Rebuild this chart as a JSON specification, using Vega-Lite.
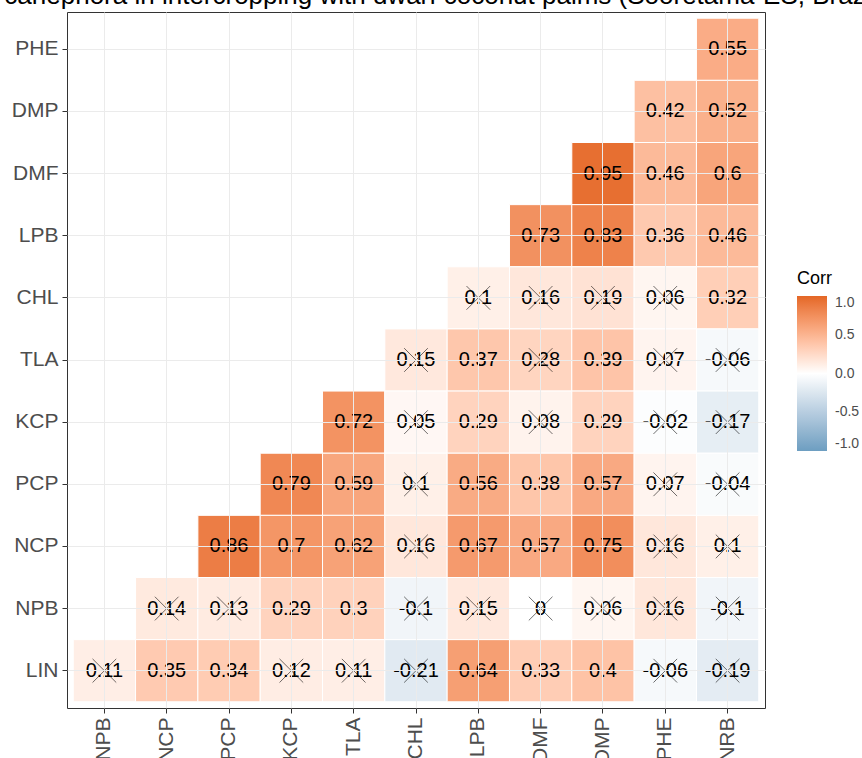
{
  "$schema": "https://vega.github.io/schema/vega-lite/v6.json",
  "autosize": {"type": "none"},
  "width": 698,
  "height": 696,
  "padding": {"left": 67, "top": 12, "right": 97, "bottom": 50},
  "background": "white",
  "title": {
    "text": "Coffea canephora in intercropping with dwarf coconut palms (Sooretama-ES, Brazil)",
    "anchor": "start",
    "frame": "group",
    "orient": "top",
    "baseline": "alphabetic",
    "offset": -18,
    "dx": -146,
    "font": "Liberation Sans",
    "fontSize": 26,
    "fontWeight": "normal",
    "color": "#000000"
  },
  "data": {
    "values": [
      {"row": "PHE", "col": "NRB", "r": 0.55, "insig": false},
      {"row": "DMP", "col": "PHE", "r": 0.42, "insig": false},
      {"row": "DMP", "col": "NRB", "r": 0.52, "insig": false},
      {"row": "DMF", "col": "DMP", "r": 0.95, "insig": false},
      {"row": "DMF", "col": "PHE", "r": 0.46, "insig": false},
      {"row": "DMF", "col": "NRB", "r": 0.6, "insig": false},
      {"row": "LPB", "col": "DMF", "r": 0.73, "insig": false},
      {"row": "LPB", "col": "DMP", "r": 0.83, "insig": false},
      {"row": "LPB", "col": "PHE", "r": 0.36, "insig": false},
      {"row": "LPB", "col": "NRB", "r": 0.46, "insig": false},
      {"row": "CHL", "col": "LPB", "r": 0.1, "insig": true},
      {"row": "CHL", "col": "DMF", "r": 0.16, "insig": true},
      {"row": "CHL", "col": "DMP", "r": 0.19, "insig": true},
      {"row": "CHL", "col": "PHE", "r": 0.06, "insig": true},
      {"row": "CHL", "col": "NRB", "r": 0.32, "insig": false},
      {"row": "TLA", "col": "CHL", "r": 0.15, "insig": true},
      {"row": "TLA", "col": "LPB", "r": 0.37, "insig": false},
      {"row": "TLA", "col": "DMF", "r": 0.28, "insig": true},
      {"row": "TLA", "col": "DMP", "r": 0.39, "insig": false},
      {"row": "TLA", "col": "PHE", "r": 0.07, "insig": true},
      {"row": "TLA", "col": "NRB", "r": -0.06, "insig": true},
      {"row": "KCP", "col": "TLA", "r": 0.72, "insig": false},
      {"row": "KCP", "col": "CHL", "r": 0.05, "insig": true},
      {"row": "KCP", "col": "LPB", "r": 0.29, "insig": false},
      {"row": "KCP", "col": "DMF", "r": 0.08, "insig": true},
      {"row": "KCP", "col": "DMP", "r": 0.29, "insig": false},
      {"row": "KCP", "col": "PHE", "r": -0.02, "insig": true},
      {"row": "KCP", "col": "NRB", "r": -0.17, "insig": true},
      {"row": "PCP", "col": "KCP", "r": 0.79, "insig": false},
      {"row": "PCP", "col": "TLA", "r": 0.59, "insig": false},
      {"row": "PCP", "col": "CHL", "r": 0.1, "insig": true},
      {"row": "PCP", "col": "LPB", "r": 0.56, "insig": false},
      {"row": "PCP", "col": "DMF", "r": 0.38, "insig": false},
      {"row": "PCP", "col": "DMP", "r": 0.57, "insig": false},
      {"row": "PCP", "col": "PHE", "r": 0.07, "insig": true},
      {"row": "PCP", "col": "NRB", "r": -0.04, "insig": true},
      {"row": "NCP", "col": "PCP", "r": 0.86, "insig": false},
      {"row": "NCP", "col": "KCP", "r": 0.7, "insig": false},
      {"row": "NCP", "col": "TLA", "r": 0.62, "insig": false},
      {"row": "NCP", "col": "CHL", "r": 0.16, "insig": true},
      {"row": "NCP", "col": "LPB", "r": 0.67, "insig": false},
      {"row": "NCP", "col": "DMF", "r": 0.57, "insig": false},
      {"row": "NCP", "col": "DMP", "r": 0.75, "insig": false},
      {"row": "NCP", "col": "PHE", "r": 0.16, "insig": true},
      {"row": "NCP", "col": "NRB", "r": 0.1, "insig": true},
      {"row": "NPB", "col": "NCP", "r": 0.14, "insig": true},
      {"row": "NPB", "col": "PCP", "r": 0.13, "insig": true},
      {"row": "NPB", "col": "KCP", "r": 0.29, "insig": false},
      {"row": "NPB", "col": "TLA", "r": 0.3, "insig": false},
      {"row": "NPB", "col": "CHL", "r": -0.1, "insig": true},
      {"row": "NPB", "col": "LPB", "r": 0.15, "insig": true},
      {"row": "NPB", "col": "DMF", "r": 0, "insig": true},
      {"row": "NPB", "col": "DMP", "r": 0.06, "insig": true},
      {"row": "NPB", "col": "PHE", "r": 0.16, "insig": true},
      {"row": "NPB", "col": "NRB", "r": -0.1, "insig": true},
      {"row": "LIN", "col": "NPB", "r": 0.11, "insig": true},
      {"row": "LIN", "col": "NCP", "r": 0.35, "insig": false},
      {"row": "LIN", "col": "PCP", "r": 0.34, "insig": false},
      {"row": "LIN", "col": "KCP", "r": 0.12, "insig": true},
      {"row": "LIN", "col": "TLA", "r": 0.11, "insig": true},
      {"row": "LIN", "col": "CHL", "r": -0.21, "insig": true},
      {"row": "LIN", "col": "LPB", "r": 0.64, "insig": false},
      {"row": "LIN", "col": "DMF", "r": 0.33, "insig": false},
      {"row": "LIN", "col": "DMP", "r": 0.4, "insig": false},
      {"row": "LIN", "col": "PHE", "r": -0.06, "insig": true},
      {"row": "LIN", "col": "NRB", "r": -0.19, "insig": true}
    ]
  },
  "encoding": {
    "x": {
      "field": "col", "type": "nominal",
      "scale": {"domain": ["NPB","NCP","PCP","KCP","TLA","CHL","LPB","DMF","DMP","PHE","NRB"], "paddingInner": 0, "paddingOuter": 0.1},
      "axis": {
        "title": null, "labelAngle": -90, "labelFontSize": 21, "labelColor": "#4D4D4D",
        "labelFont": "Liberation Sans", "labelPadding": 4,
        "tickColor": "#333333", "tickSize": 5, "domain": false,
        "grid": true, "gridColor": "#EBEBEB", "bandPosition": 0.5
      }
    },
    "y": {
      "field": "row", "type": "nominal",
      "scale": {"domain": ["PHE","DMP","DMF","LPB","CHL","TLA","KCP","PCP","NCP","NPB","LIN"], "paddingInner": 0, "paddingOuter": 0.1},
      "axis": {
        "title": null, "labelFontSize": 21, "labelColor": "#4D4D4D",
        "labelFont": "Liberation Sans", "labelPadding": 4,
        "tickColor": "#333333", "tickSize": 5, "domain": false,
        "grid": true, "gridColor": "#EBEBEB", "bandPosition": 0.5
      }
    }
  },
  "layer": [
    {
      "mark": {"type": "rect", "stroke": "white", "strokeWidth": 1},
      "encoding": {
        "color": {
          "field": "r", "type": "quantitative",
          "scale": {"domain": [-1, 0, 1], "range": ["#6D9EC1", "#FFFFFF", "#E46726"], "interpolate": "lab"},
          "legend": {
            "title": "Corr", "type": "gradient", "orient": "none",
            "legendX": 730, "legendY": 258,
            "values": [1, 0.5, 0, -0.5, -1], "format": ".1f",
            "labelExpr": "replace(datum.label, '\u2212', '-')",
            "gradientLength": 155, "gradientThickness": 30, "gradientStrokeWidth": 0,
            "titleFont": "Liberation Sans", "titleFontSize": 18, "titleFontWeight": "normal", "titleColor": "#000000", "titlePadding": 8,
            "labelFont": "Liberation Sans", "labelFontSize": 14, "labelColor": "#4D4D4D", "labelOffset": 8
          }
        }
      }
    },
    {
      "mark": {"type": "text", "font": "Liberation Sans", "fontSize": 20, "color": "#000000", "baseline": "middle", "align": "center"},
      "encoding": {
        "text": {"field": "r", "type": "nominal"}
      }
    },
    {
      "transform": [{"filter": "datum.insig"}],
      "mark": {"type": "point", "shape": "M-1,-1L1,1M-1,1L1,-1", "filled": false, "size": 560, "stroke": "#000000", "strokeWidth": 0.8, "opacity": 0.7},
      "encoding": {}
    }
  ],
  "config": {
    "view": {"stroke": "#333333", "strokeWidth": 1}
  }
}
